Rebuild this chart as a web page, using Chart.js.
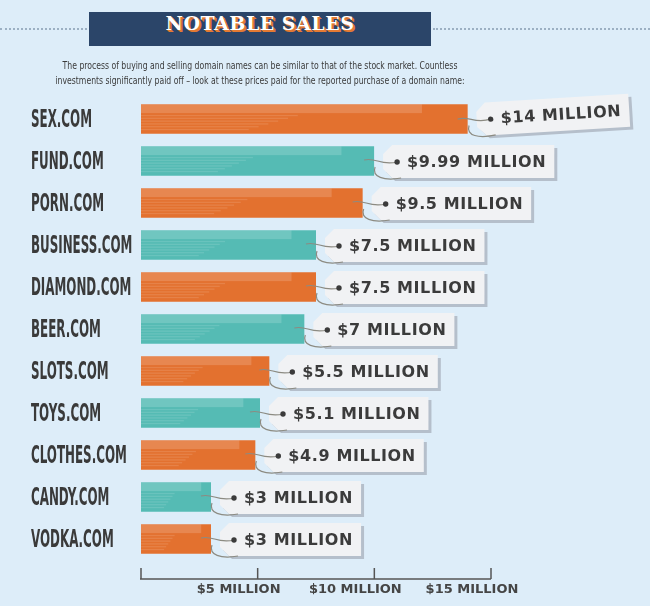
<!DOCTYPE html>
<html>
<head>
<meta charset="utf-8">
<script src="https://cdn.jsdelivr.net/npm/chart.js@4.4.1/dist/chart.umd.min.js"></script>
<style>
  html,body{margin:0;padding:0;background:#ddedf9;}
  #wrap{position:relative;width:650px;height:606px;overflow:hidden;background:#ddedf9;}
  #c{position:absolute;left:0;top:0;}
  .dots{position:absolute;top:28px;height:0;border-top:2px dotted #9cb0c3;}
  #titlebox{position:absolute;left:89px;top:12px;width:342px;height:34px;background:#2b4569;
    color:#fff;text-align:center;line-height:35px;font:bold 19px "DejaVu Serif",serif;letter-spacing:0.5px;
    text-shadow:1px 1px 0 #e47a33,2px 2px 0 #e47a33;}
  .sub{position:absolute;left:-100px;width:720px;text-align:center;color:#3a3a3a;white-space:nowrap;
    font:11px "DejaVu Sans Condensed","Liberation Sans",sans-serif;line-height:15px;
    transform:scaleX(0.78);transform-origin:360px 0;}
</style>
</head>
<body>
<div id="wrap">
  <canvas id="c" width="650" height="606"></canvas>
  <div class="dots" style="left:0;width:87px"></div>
  <div class="dots" style="left:433px;width:217px"></div>
  <div id="titlebox">NOTABLE SALES</div>
  <div class="sub" style="top:58px">The process of buying and selling domain names can be similar to that of the stock market. Countless</div>
  <div class="sub" style="top:73px">investments significantly paid off – look at these prices paid for the reported purchase of a domain name:</div>
</div>
<script>
const domains = ['SEX.COM','FUND.COM','PORN.COM','BUSINESS.COM','DIAMOND.COM','BEER.COM','SLOTS.COM','TOYS.COM','CLOTHES.COM','CANDY.COM','VODKA.COM'];
const pricesMillion = [14, 9.99, 9.5, 7.5, 7.5, 7, 5.5, 5.1, 4.9, 3, 3];
const priceLabels = ['$14 MILLION','$9.99 MILLION','$9.5 MILLION','$7.5 MILLION','$7.5 MILLION','$7 MILLION','$5.5 MILLION','$5.1 MILLION','$4.9 MILLION','$3 MILLION','$3 MILLION'];
const axisTicks = [0, 5, 10, 15];
const axisTickLabels = ['', '$5 MILLION', '$10 MILLION', '$15 MILLION'];

const ORANGE = '#e3712f', TEAL = '#55bbb4';
const barColors = domains.map((d,i)=> i%2===0 ? ORANGE : TEAL);

function drawTag(ctx, xe, yc, text, ang){
  ctx.save();
  ctx.font = 'bold 16px "DejaVu Sans", sans-serif';
  try{ ctx.letterSpacing = '0.6px'; }catch(e){}
  const tw = ctx.measureText(text).width;
  const x0 = xe + 9, tTop = yc - 16, tBot = yc + 17, ch = 9;
  const xr = x0 + 24 + tw + 8;
  ctx.translate(x0, yc); ctx.rotate(ang); ctx.translate(-x0, -yc);
  const shape = (dx,dy)=>{
    ctx.beginPath();
    ctx.moveTo(x0+ch+dx, tTop+dy);
    ctx.lineTo(xr+dx, tTop+dy);
    ctx.lineTo(xr+dx, tBot+dy);
    ctx.lineTo(x0+ch+dx, tBot+dy);
    ctx.lineTo(x0+dx, tBot-ch+dy);
    ctx.lineTo(x0+dx, tTop+ch+dy);
    ctx.closePath();
  };
  shape(3,3); ctx.fillStyle = '#b5bfcb'; ctx.fill();
  shape(0,0); ctx.fillStyle = '#f1f2f4'; ctx.fill();
  const hx = x0 + 14;
  ctx.strokeStyle = '#8c8b82'; ctx.lineWidth = 1.2;
  ctx.beginPath();
  ctx.moveTo(xe - 10, yc - 1);
  ctx.bezierCurveTo(xe + 2, yc - 4, xe + 6, yc + 5, hx, yc + 1);
  ctx.stroke();
  ctx.beginPath();
  ctx.moveTo(xe + 1, yc + 6);
  ctx.bezierCurveTo(xe - 3, yc + 16, xe + 10, yc + 20, x0 + 18, yc + 17);
  ctx.stroke();
  ctx.beginPath(); ctx.arc(hx, yc + 1, 2.7, 0, Math.PI*2); ctx.fillStyle = '#3b3b3b'; ctx.fill();
  ctx.fillStyle = '#3b3b3b';
  ctx.textBaseline = 'middle'; ctx.textAlign = 'left';
  ctx.fillText(text, x0 + 24, yc + 1.5);
  ctx.restore();
}

const decorPlugin = {
  id: 'decor',
  afterDatasetsDraw(chart){
    const ctx = chart.ctx;
    const meta = chart.getDatasetMeta(0);
    const xs = chart.scales.x, ys = chart.scales.y;
    meta.data.forEach((bar)=>{
      const left = Math.min(bar.base, bar.x), right = Math.max(bar.base, bar.x);
      const h = bar.height, top = bar.y - h/2, w = right - left;
      ctx.save();
      ctx.fillStyle = 'rgba(255,255,255,0.16)';
      ctx.fillRect(left, top, w*0.86, h*0.3);
      ctx.fillStyle = 'rgba(255,255,255,0.12)';
      for(let k=0;k<6;k++){
        ctx.fillRect(left, top + h*0.36 + k*2.8, w*(0.48 - k*0.03), 1.3);
      }
      ctx.restore();
    });
    ctx.save();
    ctx.font = 'bold 24px "Liberation Sans Narrow", "DejaVu Sans Condensed", sans-serif';
    const sx = 61 / ctx.measureText('SEX.COM').width;
    ctx.fillStyle = '#3a3a3a';
    ctx.textBaseline = 'middle';
    domains.forEach((d,i)=>{
      const y = ys.getPixelForValue(i);
      ctx.save();
      ctx.translate(31, y + 1.5);
      ctx.scale(sx, 1);
      ctx.fillText(d, 0, 0);
      ctx.restore();
    });
    ctx.restore();
    ctx.save();
    ctx.strokeStyle = '#555'; ctx.lineWidth = 1.5;
    const ay = 579;
    ctx.beginPath();
    ctx.moveTo(xs.getPixelForValue(axisTicks[0]) - 1, ay);
    ctx.lineTo(xs.getPixelForValue(axisTicks[axisTicks.length-1]), ay);
    axisTicks.forEach(v=>{
      const px = xs.getPixelForValue(v);
      ctx.moveTo(px, ay); ctx.lineTo(px, ay - 11);
    });
    ctx.stroke();
    ctx.restore();
    meta.data.forEach((bar,i)=>{
      drawTag(ctx, bar.x, bar.y, priceLabels[i], i===0 ? -0.06 : 0);
    });
  }
};

new Chart(document.getElementById('c'), {
  type: 'bar',
  data: {
    labels: domains,
    datasets: [{
      data: pricesMillion,
      backgroundColor: barColors,
      borderWidth: 0,
      categoryPercentage: 1,
      barPercentage: 0.7
    }]
  },
  options: {
    indexAxis: 'y',
    responsive: false,
    animation: false,
    devicePixelRatio: 1,
    layout: { padding: { left: 141, right: 159, top: 98, bottom: 8 } },
    plugins: { legend: { display: false }, tooltip: { enabled: false } },
    scales: {
      y: { display: false },
      x: {
        min: 0, max: 15,
        afterFit: (scale) => { scale.height = 38; },
        grid: { display: false, drawTicks: false },
        border: { display: false },
        ticks: {
          stepSize: 5, autoSkip: false, maxRotation: 0, padding: 22, labelOffset: -19,
          color: '#454545',
          font: { family: '"DejaVu Sans", sans-serif', weight: 'bold', size: 13 },
          callback: (v) => { const k = axisTicks.indexOf(v); return k >= 0 ? axisTickLabels[k] : ''; }
        }
      }
    }
  },
  plugins: [decorPlugin]
});
</script>
</body>
</html>
